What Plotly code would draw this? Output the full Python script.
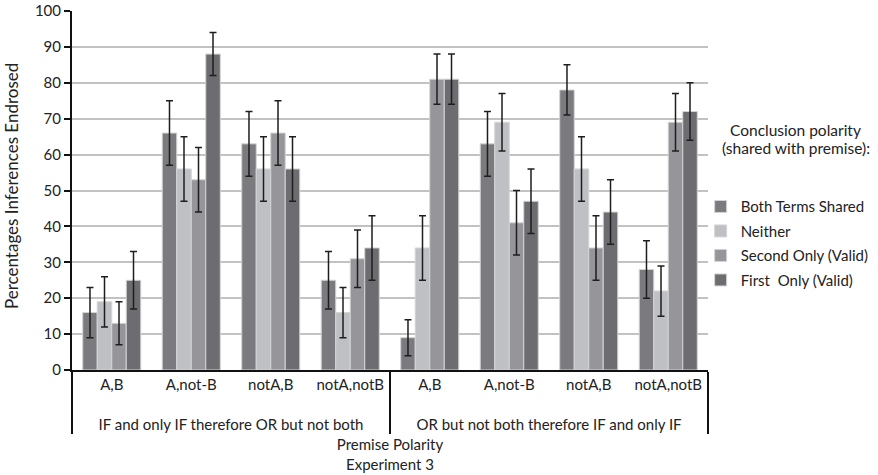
import plotly.graph_objects as go

# Premise groups and premise polarity categories
premise_groups = ["IF and only IF therefore OR but not both",
                  "OR but not both therefore IF and only IF"]
polarities = ["A,B", "A,not-B", "notA,B", "notA,notB"]

# Percentages of inferences endorsed (per conclusion polarity) and error margins
both_terms = [16, 66, 63, 25, 9, 63, 78, 28]
both_terms_err = [7, 9, 9, 8, 5, 9, 7, 8]
neither = [19, 56, 56, 16, 34, 69, 56, 22]
neither_err = [7, 9, 9, 7, 9, 8, 9, 7]
second_only = [13, 53, 66, 31, 81, 41, 34, 69]
second_only_err = [6, 9, 9, 8, 7, 9, 9, 8]
first_only = [25, 88, 56, 34, 81, 47, 44, 72]
first_only_err = [8, 6, 9, 9, 7, 9, 9, 8]

series_names = ["Both Terms Shared", "Neither", "Second Only (Valid)", "First  Only (Valid)"]
series_vals = [both_terms, neither, second_only, first_only]
series_errs = [both_terms_err, neither_err, second_only_err, first_only_err]
colors = ["#7b7b7f", "#bfc0c4", "#96969a", "#6d6d71"]

# outer labels get a blank first line so they sit lower under the polarity row
x_outer = ["<br>" + g for g in premise_groups for _ in polarities]
x_inner = polarities * len(premise_groups)

FONT = "Lato, 'Open Sans', sans-serif"
TXT = "#222222"

fig = go.Figure()
for i, (name, vals, errs, col) in enumerate(zip(series_names, series_vals, series_errs, colors)):
    fig.add_trace(go.Bar(
        x=[x_outer, x_inner],
        y=vals,
        name=name,
        legendgroup=f"g{i}",
        marker=dict(color=col, line=dict(color="#d4d4d6", width=1)),
        error_y=dict(type="data", array=errs, visible=True,
                     color="#1e1e1e", thickness=1.5, width=3.5),
    ))

fig.update_layout(
    width=878, height=475,
    margin=dict(l=72, r=170, t=11, b=105, autoexpand=False),
    paper_bgcolor="white", plot_bgcolor="white",
    barmode="group", bargap=0.27, bargroupgap=0,
    font=dict(family=FONT, size=15, color=TXT),
    showlegend=True,
    legend=dict(
        xref="container", yref="container",
        x=0.798, xanchor="left", y=0.5996, yanchor="top",
        font=dict(size=15, color=TXT),
        traceorder="grouped", tracegroupgap=2,
        itemwidth=30, bgcolor="rgba(0,0,0,0)",
    ),
    annotations=[
        dict(text="Conclusion polarity",
             xref="paper", yref="paper", x=1.138, y=0.6685,
             xanchor="center", yanchor="middle", showarrow=False,
             font=dict(size=15.5, color=TXT)),
        dict(text="(shared with premise):",
             xref="paper", yref="paper", x=1.138, y=0.618,
             xanchor="center", yanchor="middle", showarrow=False,
             font=dict(size=15.5, color=TXT)),
        dict(text="Percentages Inferences Endrosed",
             xref="paper", yref="paper", x=-0.094, y=0.513,
             xanchor="center", yanchor="middle", showarrow=False,
             textangle=-90, font=dict(size=17, color=TXT)),
    ],
)

fig.update_yaxes(
    range=[0, 100], dtick=10, tickmode="linear",
    showgrid=True, gridcolor="#c2c2c2", gridwidth=1.5,
    showline=True, linecolor="#111111", linewidth=2,
    ticks="outside", ticklen=6, tickcolor="#111111", tickwidth=1.5,
    tickfont=dict(size=15),
    zeroline=False,
)
fig.update_xaxes(
    type="multicategory",
    showline=True, linecolor="#111111", linewidth=2,
    showdividers=True, dividercolor="#111111", dividerwidth=1.5,
    tickfont=dict(size=15),
    title=dict(text="Premise Polarity<br>Experiment 3", font=dict(size=15), standoff=8),
)

fig.write_html("out.html")
